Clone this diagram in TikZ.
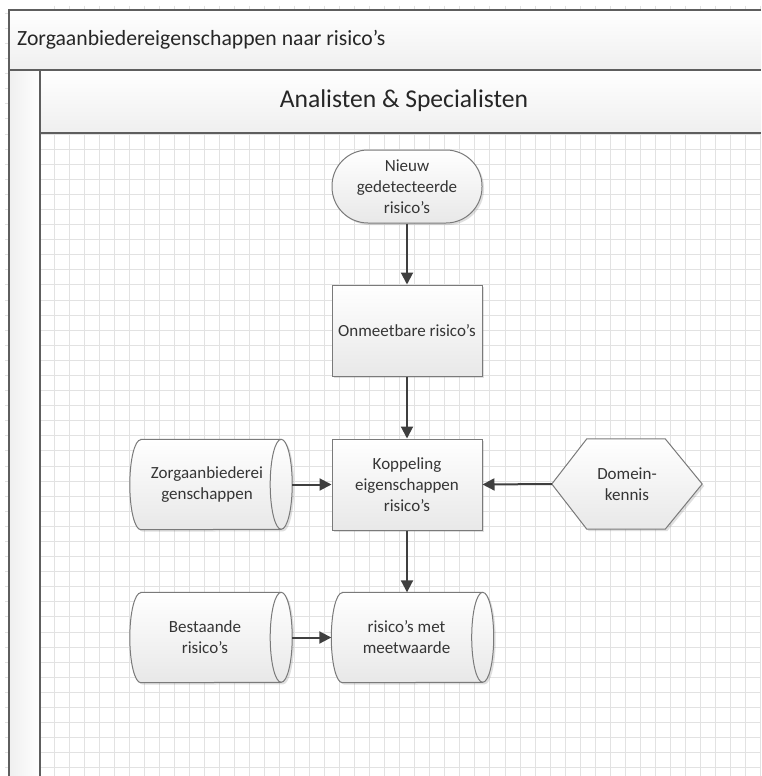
\documentclass[tikz,border=0pt]{standalone}
\usepackage{fontspec}
\setmainfont{Carlito}
\usetikzlibrary{arrows.meta,shadows,calc}
\definecolor{framec}{HTML}{5E5E5E}
\definecolor{gridc}{HTML}{E2E2E2}
\definecolor{shapeline}{HTML}{7A7A7A}
\definecolor{arrowc}{HTML}{3F3F3F}
\definecolor{txt}{HTML}{353535}
\definecolor{fillbot}{HTML}{E8E8E8}
\definecolor{headbot}{HTML}{EFEFEF}
\tikzset{
  shapefill/.style={top color=white, bottom color=fillbot, draw=shapeline, line width=1pt,
    drop shadow={shadow xshift=2pt, shadow yshift=-2pt, opacity=0.25}},
  lbl/.style={font=\fontsize{17}{21}\selectfont, text=txt, align=center, inner sep=0pt},
  procbox/.style={shapefill, rectangle, minimum width=150pt, minimum height=91pt, lbl},
  termbox/.style={shapefill, rectangle, rounded corners=36pt, minimum width=150pt, minimum height=73pt, lbl},
  drumbox/.style={rectangle, minimum width=162pt, minimum height=90pt, inner sep=0pt},
  hexbox/.style={rectangle, minimum width=150pt, minimum height=90pt, inner sep=0pt, lbl},
  flow/.style={draw=arrowc, line width=2pt, -{Triangle[length=12pt, width=12pt]}},
  frameline/.style={draw=framec, line width=2pt},
}
% horizontal storage drum around an existing node
\newcommand\drumshape[1]{%
  \path[shapefill] ($(#1.north west)+(11,0)$) -- ($(#1.north east)+(-11,0)$)
    arc[start angle=-90, end angle=90, x radius=11, y radius=45]
    -- ($(#1.south west)+(11,0)$)
    arc[start angle=90, end angle=270, x radius=11, y radius=45] -- cycle;
  \draw[shapeline, line width=1pt] ($(#1.north east)+(-11,0)$)
    arc[start angle=-90, end angle=-270, x radius=11, y radius=45];
}
\begin{document}
\begin{tikzpicture}[x=1pt, y=-1pt]
\useasboundingbox (0,0) rectangle (761,776);
\fill[white] (0,0) rectangle (761,776);

% background grid of the lane
\foreach \k in {3,...,50} {
  \draw[gridc, line width=0.9pt] ({9.3+15.02*\k},133) -- ({9.3+15.02*\k},776);
  \draw[gridc, line width=0.9pt] ({9.3+15.02*\k},6) -- ({9.3+15.02*\k},10);
}
\foreach \k in {8,...,50} {
  \draw[gridc, line width=0.9pt] (40,{13.3+15.09*\k}) -- (761,{13.3+15.09*\k});
}
\foreach \k in {0,...,50} {
  \draw[gridc, line width=0.9pt] (5,{13.3+15.09*\k}) -- (9,{13.3+15.09*\k});
}

% pool and lane headers
\shade[top color=white, bottom color=headbot] (9,10) rectangle (761,70);
\shade[top color=white, bottom color=headbot] (40,70) rectangle (761,133);
\shade[left color=headbot, right color=white] (9,70) rectangle (40,776);
\draw[frameline] (761,10) -- (9,10) -- (9,776);
\draw[frameline] (9,70) -- (761,70);
\draw[frameline] (40,133) -- (761,133);
\draw[frameline] (40,70) -- (40,776);

\node[anchor=west, font=\fontsize{21.7}{26}\selectfont, text=black!85, inner sep=0pt] (pool) at (17,40)
  {Zorgaanbiedereigenschappen naar risico’s};
\node[font=\fontsize{25.6}{30}\selectfont, text=black!85, inner sep=0pt] (lane) at (404,101)
  {Analisten \& Specialisten};

% flow shapes
\node[termbox] (nieuw) at (407,186.5) {Nieuw\\gedetecteerde\\risico’s};
\node[procbox] (onm) at (407,330.5) {Onmeetbare risico’s};
\node[procbox] (kop) at (407,484.5) {Koppeling\\eigenschappen\\risico’s};

\node[drumbox] (zg) at (211,484.5) {};
\drumshape{zg}
\node[lbl, xshift=-4pt] (zgt) at (zg.center) {Zorgaanbiederei\\genschappen};

\node[drumbox] (ba) at (211,637.5) {};
\drumshape{ba}
\node[lbl, xshift=-6pt] (bat) at (ba.center) {Bestaande\\risico’s};

\node[drumbox] (rm) at (412.5,637.5) {};
\drumshape{rm}
\node[lbl, xshift=-6pt] (rmt) at (rm.center) {risico’s met\\meetwaarde};

\node[hexbox] (dk) at (627,484) {};
\path[shapefill] (dk.west) -- ($(dk.north west)+(35,0)$) -- ($(dk.north east)+(-37,0)$)
  -- (dk.east) -- ($(dk.south east)+(-37,0)$) -- ($(dk.south west)+(35,0)$) -- cycle;
\node[lbl] (dkt) at (dk.center) {Domein-\\kennis};

% connectors
\draw[flow] (nieuw) -- (onm);
\draw[flow] (onm) -- (kop);
\draw[flow] (zg.east) -- (kop.west);
\draw[flow] (dk.west) -- (kop.east);
\draw[flow] (kop.south) -- (kop.south |- rm.north);
\draw[flow] (ba.east) -- (rm.west);
\end{tikzpicture}
\end{document}
